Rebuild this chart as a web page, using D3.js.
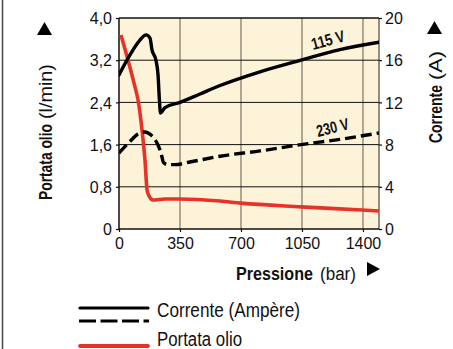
<!DOCTYPE html>
<html><head><meta charset="utf-8">
<script src="https://cdn.jsdelivr.net/npm/d3@7"></script>
<style>
html,body{margin:0;padding:0;background:#fff;}
svg{display:block;}
text{font-family:"Liberation Sans",Arial,sans-serif;fill:#111;}
</style></head>
<body>
<svg id="c" width="453" height="349"></svg>
<script>
// ---- data ----
const xTicks = [0, 350, 700, 1050, 1400];
const flowTicks = [0, 0.8, 1.6, 2.4, 3.2, 4.0];
const flowTickLabels = ["0", "0,8", "1,6", "2,4", "3,2", "4,0"];
const ampTicks = [0, 4, 8, 12, 16, 20];
const ampTickLabels = ["0", "4", "8", "12", "16", "20"];

const pressure115 = [0, 63, 120, 155, 178, 189, 212, 224, 232, 238, 264, 350, 465, 580, 809, 1044, 1268, 1492];
const current115  = [14.6, 16.5, 17.9, 18.4, 18.1, 17.0, 16.0, 14.6, 12.2, 11.0, 11.5, 12.0, 12.8, 13.6, 14.9, 16.0, 17.0, 17.7];

const pressure230 = [0, 63, 109, 149, 184, 218, 235, 247, 255, 281, 321, 407, 580, 809, 1044, 1268, 1492];
const current230  = [7.2, 8.3, 9.0, 9.2, 8.9, 8.15, 7.5, 6.8, 6.3, 6.1, 6.1, 6.35, 6.9, 7.4, 8.0, 8.5, 9.1];

const pressureFlow = [11, 52, 92, 109, 132, 149, 161, 172, 195, 264, 350, 580, 700, 1044, 1394, 1492];
const oilFlow      = [3.68, 3.2, 2.69, 2.45, 1.88, 1.31, 0.74, 0.63, 0.55, 0.57, 0.57, 0.53, 0.49, 0.42, 0.36, 0.34];

const legendLabels = ["Corrente (Ampère)", "Portata olio"];
const seriesLabels = ["115 V", "230 V"];

// ---- drawing ----
const svg = d3.select("#c");
const X0 = 119, X1 = 379, Y0 = 229, Y1 = 18;
const x = d3.scaleLinear().domain([0, 1492]).range([X0, X1]);
const yL = d3.scaleLinear().domain([0, 4]).range([Y0, Y1]);
const yR = d3.scaleLinear().domain([0, 20]).range([Y0, Y1]);

// outer left border
svg.append("line").attr("x1", 2.5).attr("x2", 2.5).attr("y1", 0).attr("y2", 349)
  .attr("stroke", "#444").attr("stroke-width", 1.5);

// plot background
svg.append("rect").attr("x", X0).attr("y", Y1).attr("width", X1 - X0).attr("height", Y0 - Y1)
  .attr("fill", "#fdf3d8");

// vertical grid
svg.append("g").selectAll("line").data(xTicks.slice(1)).join("line")
  .attr("x1", d => x(d)).attr("x2", d => x(d)).attr("y1", Y1).attr("y2", Y0)
  .attr("stroke", "#7d7466").attr("stroke-width", 1.2);
// horizontal grid
svg.append("g").selectAll("line").data(flowTicks.slice(1)).join("line")
  .attr("x1", X0).attr("x2", X1).attr("y1", d => yL(d)).attr("y2", d => yL(d))
  .attr("stroke", "#111").attr("stroke-width", 1);
// right border
svg.append("line").attr("x1", X1).attr("x2", X1).attr("y1", Y1).attr("y2", Y0)
  .attr("stroke", "#222").attr("stroke-width", 1);

// axes
const fmtL = d => flowTickLabels[flowTicks.indexOf(d)];
const fmtR = d => ampTickLabels[ampTicks.indexOf(d)];
const axL = svg.append("g").attr("transform", `translate(${X0},0)`)
  .call(d3.axisLeft(yL).tickValues(flowTicks).tickFormat(fmtL).tickSize(3).tickPadding(4));
const axR = svg.append("g").attr("transform", `translate(${X1},0)`)
  .call(d3.axisRight(yR).tickValues(ampTicks).tickFormat(fmtR).tickSize(3).tickPadding(3));
const axB = svg.append("g").attr("transform", `translate(0,${Y0})`)
  .call(d3.axisBottom(x).tickValues(xTicks).tickFormat(d => String(d)).tickSize(3).tickPadding(6));
[axL, axR, axB].forEach(a => {
  a.select(".domain").remove();
  a.selectAll("line").attr("stroke", "#111").attr("stroke-width", 1.2);
  a.selectAll("text").attr("font-size", 16).attr("fill", "#111")
    .attr("font-family", "'Liberation Sans',Arial,sans-serif");
});
axL.selectAll("text").attr("dy", "0.36em");
axR.selectAll("text").attr("dy", "0.36em");
// axis lines
svg.append("line").attr("x1", X0).attr("x2", X0).attr("y1", Y1).attr("y2", Y0 + 0.5)
  .attr("stroke", "#111").attr("stroke-width", 1.5);
svg.append("line").attr("x1", X0).attr("x2", X1).attr("y1", Y0).attr("y2", Y0)
  .attr("stroke", "#111").attr("stroke-width", 1.5);
svg.append("line").attr("x1", X0).attr("x2", X1).attr("y1", Y1).attr("y2", Y1)
  .attr("stroke", "#111").attr("stroke-width", 1.2);

// curves
const lineR = d3.line().x(d => x(d[0])).y(d => yR(d[1])).curve(d3.curveMonotoneX);
const lineL = d3.line().x(d => x(d[0])).y(d => yL(d[1])).curve(d3.curveMonotoneX);
svg.append("clipPath").attr("id", "pc").append("rect")
  .attr("x", X0).attr("y", Y1 - 5).attr("width", X1 - X0).attr("height", Y0 - Y1 + 5);
const g = svg.append("g").attr("clip-path", "url(#pc)");

g.append("path").datum(d3.zip(pressureFlow, oilFlow)).attr("d", lineL)
  .attr("fill", "none").attr("stroke", "#e63329").attr("stroke-width", 3.6).attr("stroke-linejoin", "round");
g.append("path").datum(d3.zip(pressure230, current230)).attr("d", lineR)
  .attr("fill", "none").attr("stroke", "#000").attr("stroke-width", 3.4)
  .attr("stroke-dasharray", "11,5").attr("stroke-linecap", "butt");
g.append("path").datum(d3.zip(pressure115, current115)).attr("d", lineR)
  .attr("fill", "none").attr("stroke", "#000").attr("stroke-width", 3.4)
  .attr("stroke-linejoin", "round").attr("stroke-linecap", "round");

// helper: text condensed (scaled horizontally) to a measured width
function txt(str, size, len, bold, px, py, rot) {
  const t = svg.append("text").attr("font-size", size).text(str);
  if (bold) t.attr("font-weight", "bold");
  const w = t.node().getComputedTextLength();
  t.attr("transform", `translate(${px},${py}) rotate(${rot || 0}) scale(${len / w},1)`);
  return t;
}

// series labels
txt(seriesLabels[0], 16.5, 34, true, 313, 50, -15);
txt(seriesLabels[1], 16.5, 33, true, 318, 137, -14);

// axis titles
txt("Portata olio", 18.5, 76, true, 52, 200, -90);
txt("(l/min)", 19, 55, false, 52, 119, -90);
svg.append("path").attr("d", "M37,35 L52,35 L44.5,22 Z").attr("fill", "#000");

txt("Corrente", 18.5, 58, true, 442, 143, -90);
txt("(A)", 19, 29, false, 442, 80, -90);
svg.append("path").attr("d", "M427,34 L442,34 L434.5,21 Z").attr("fill", "#000");

txt("Pressione", 18.5, 77, true, 236, 280, 0);
txt("(bar)", 19, 36, false, 320, 280, 0);
svg.append("path").attr("d", "M367,262 L380,269 L367,276 Z").attr("fill", "#000");

// legend
svg.append("line").attr("x1", 80).attr("x2", 148).attr("y1", 308).attr("y2", 308)
  .attr("stroke", "#000").attr("stroke-width", 3.2).attr("stroke-linecap", "round");
svg.append("line").attr("x1", 79).attr("x2", 149).attr("y1", 321).attr("y2", 321)
  .attr("stroke", "#000").attr("stroke-width", 3.2).attr("stroke-dasharray", "17,4.5");
svg.append("line").attr("x1", 80).attr("x2", 148).attr("y1", 346).attr("y2", 346)
  .attr("stroke", "#e63329").attr("stroke-width", 3.8).attr("stroke-linecap", "round");
txt(legendLabels[0], 20, 143, false, 157, 317, 0);
txt(legendLabels[1], 20, 85, false, 157, 346, 0);
</script>
</body></html>
